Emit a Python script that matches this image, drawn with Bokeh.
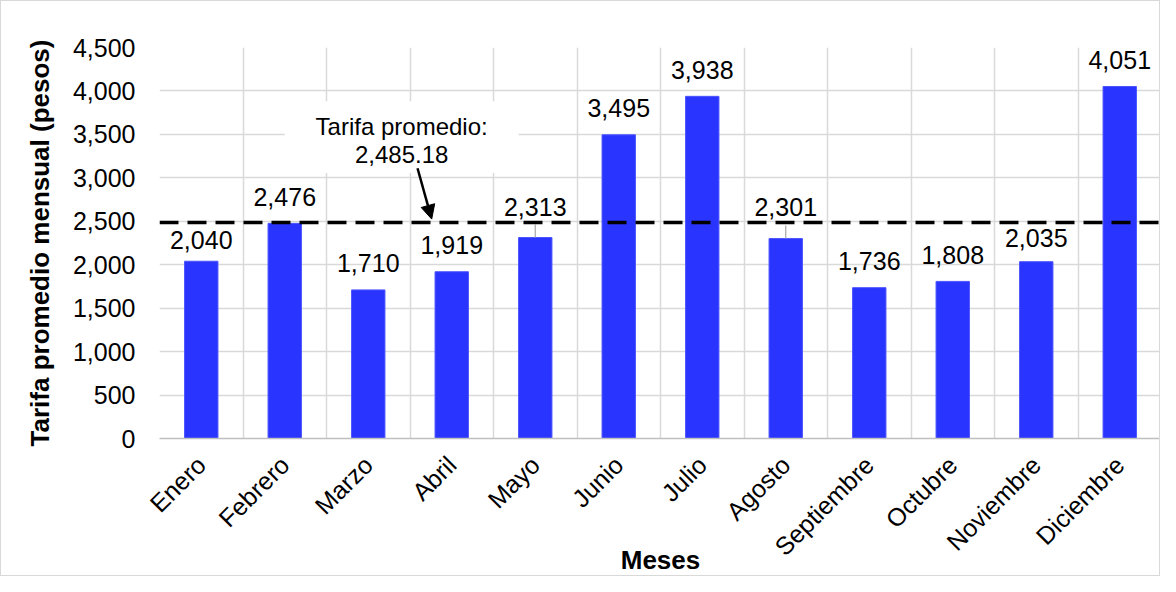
import numpy as np
from bokeh.plotting import figure
from bokeh.models import (ColumnDataSource, Range1d, FixedTicker, NumeralTickFormatter,
                          Span, Arrow, NormalHead)
from bokeh.core.properties import value
from bokeh.embed import file_html
from bokeh.resources import INLINE

# ---- data ----
months = ["Enero", "Febrero", "Marzo", "Abril", "Mayo", "Junio", "Julio",
          "Agosto", "Septiembre", "Octubre", "Noviembre", "Diciembre"]
tarifas = [2040, 2476, 1710, 1919, 2313, 3495, 3938, 2301, 1736, 1808, 2035, 4051]
y_ticks = [0, 500, 1000, 1500, 2000, 2500, 3000, 3500, 4000, 4500]
promedio = 2485.18
promedio_lines = ["Tarifa promedio:", "2,485.18"]
y_title = "Tarifa promedio mensual (pesos)"
x_title = "Meses"

# ---- style ----
FONT = "Liberation Sans"
BAR = "#2A34FF"
GRID = "#d9d9d9"
label_extra_px = {"Enero": -5.5, "Noviembre": -3, "Mayo": 4.5, "Agosto": 5}
leader_months = ("Mayo", "Agosto")

n = len(months)
centers = np.arange(n) + 0.5

p = figure(width=1160, height=576, output_backend="svg", toolbar_location=None,
           x_range=Range1d(0, n), y_range=Range1d(0, 4500),
           min_border_left=158, min_border_right=0, min_border_top=46,
           min_border_bottom=138)
p.styles = {"border": "1px solid #d9d9d9"}
p.outline_line_color = None
p.background_fill_color = "white"

# grids
p.xgrid.ticker = FixedTicker(ticks=list(range(n + 1)))
p.ygrid.ticker = FixedTicker(ticks=y_ticks)
for g in (p.xgrid, p.ygrid):
    g.grid_line_color = GRID
    g.grid_line_width = 1.5

# axes
p.xaxis.ticker = FixedTicker(ticks=list(centers))
p.xaxis.major_label_overrides = {float(c): m for c, m in zip(centers, months)}
p.xaxis.major_label_orientation = np.pi / 4
p.xaxis.axis_line_color = "#bfbfbf"
p.xaxis.axis_line_width = 1.5
p.xaxis.major_tick_line_color = None
p.xaxis.minor_tick_line_color = None
p.xaxis.major_tick_out = 0
p.xaxis.major_label_standoff = 22
p.xaxis.axis_label = x_title
p.xaxis.axis_label_standoff = -29

p.yaxis.ticker = FixedTicker(ticks=y_ticks)
p.yaxis.formatter = NumeralTickFormatter(format="0,0")
p.yaxis.axis_line_color = None
p.yaxis.major_tick_line_color = None
p.yaxis.minor_tick_line_color = None
p.yaxis.major_tick_out = 0
p.yaxis.major_label_standoff = 24
p.yaxis.axis_label = y_title
p.yaxis.axis_label_standoff = 15

for ax in (p.xaxis, p.yaxis):
    ax.major_label_text_font = FONT
    ax.major_label_text_font_size = "25px"
    ax.major_label_text_color = "black"
    ax.axis_label_text_font = FONT
    ax.axis_label_text_font_size = "26px"
    ax.axis_label_text_font_style = "bold"
    ax.axis_label_text_color = "black"

# bars
src = ColumnDataSource(dict(
    x=centers, top=tarifas,
    label=[f"{v:,}" for v in tarifas],
    yoff=[-(26.5 + label_extra_px.get(m, 0)) for m in months],
))
p.vbar(x="x", top="top", width=0.4, source=src, fill_color=BAR,
       line_color="#4b55ff", line_width=1)

# leader lines for moved labels
px = 4500 / 392.0
lead_x = [c for c, m in zip(centers, months) if m in leader_months]
lead_y = [v for v, m in zip(tarifas, months) if m in leader_months]
p.segment(x0=lead_x, y0=lead_y, x1=lead_x, y1=[v + 13 * px for v in lead_y],
          line_color="#a6a6a6", line_width=1.2)

p.text(x="x", y="top", text="label", y_offset="yoff", source=src,
       text_align="center", text_baseline="middle",
       text_font=value(FONT), text_font_size="25px", text_color="black")

# average line
p.add_layout(Span(location=promedio, dimension="width", line_color="black",
                  line_width=3.5, line_dash="19 9"))

# annotation box
p.quad(left=[1.50], right=[4.30], bottom=[promedio + 570], top=[promedio + 1395],
       fill_color="white", line_color=None)
p.text(x=[2.90], y=[promedio + 1108], text=[promedio_lines[0]],
       text_align="center", text_baseline="middle",
       text_font=value(FONT), text_font_size="24px", text_color="black")
p.text(x=[2.90], y=[promedio + 787], text=[promedio_lines[1]],
       text_align="center", text_baseline="middle",
       text_font=value(FONT), text_font_size="24px", text_color="black")
p.add_layout(Arrow(end=NormalHead(size=14, fill_color="black", line_color="black"),
                   x_start=3.09, y_start=promedio + 625,
                   x_end=3.26, y_end=promedio + 40,
                   line_color="black", line_width=2.5))

open("out.html", "w").write(file_html(p, INLINE))
